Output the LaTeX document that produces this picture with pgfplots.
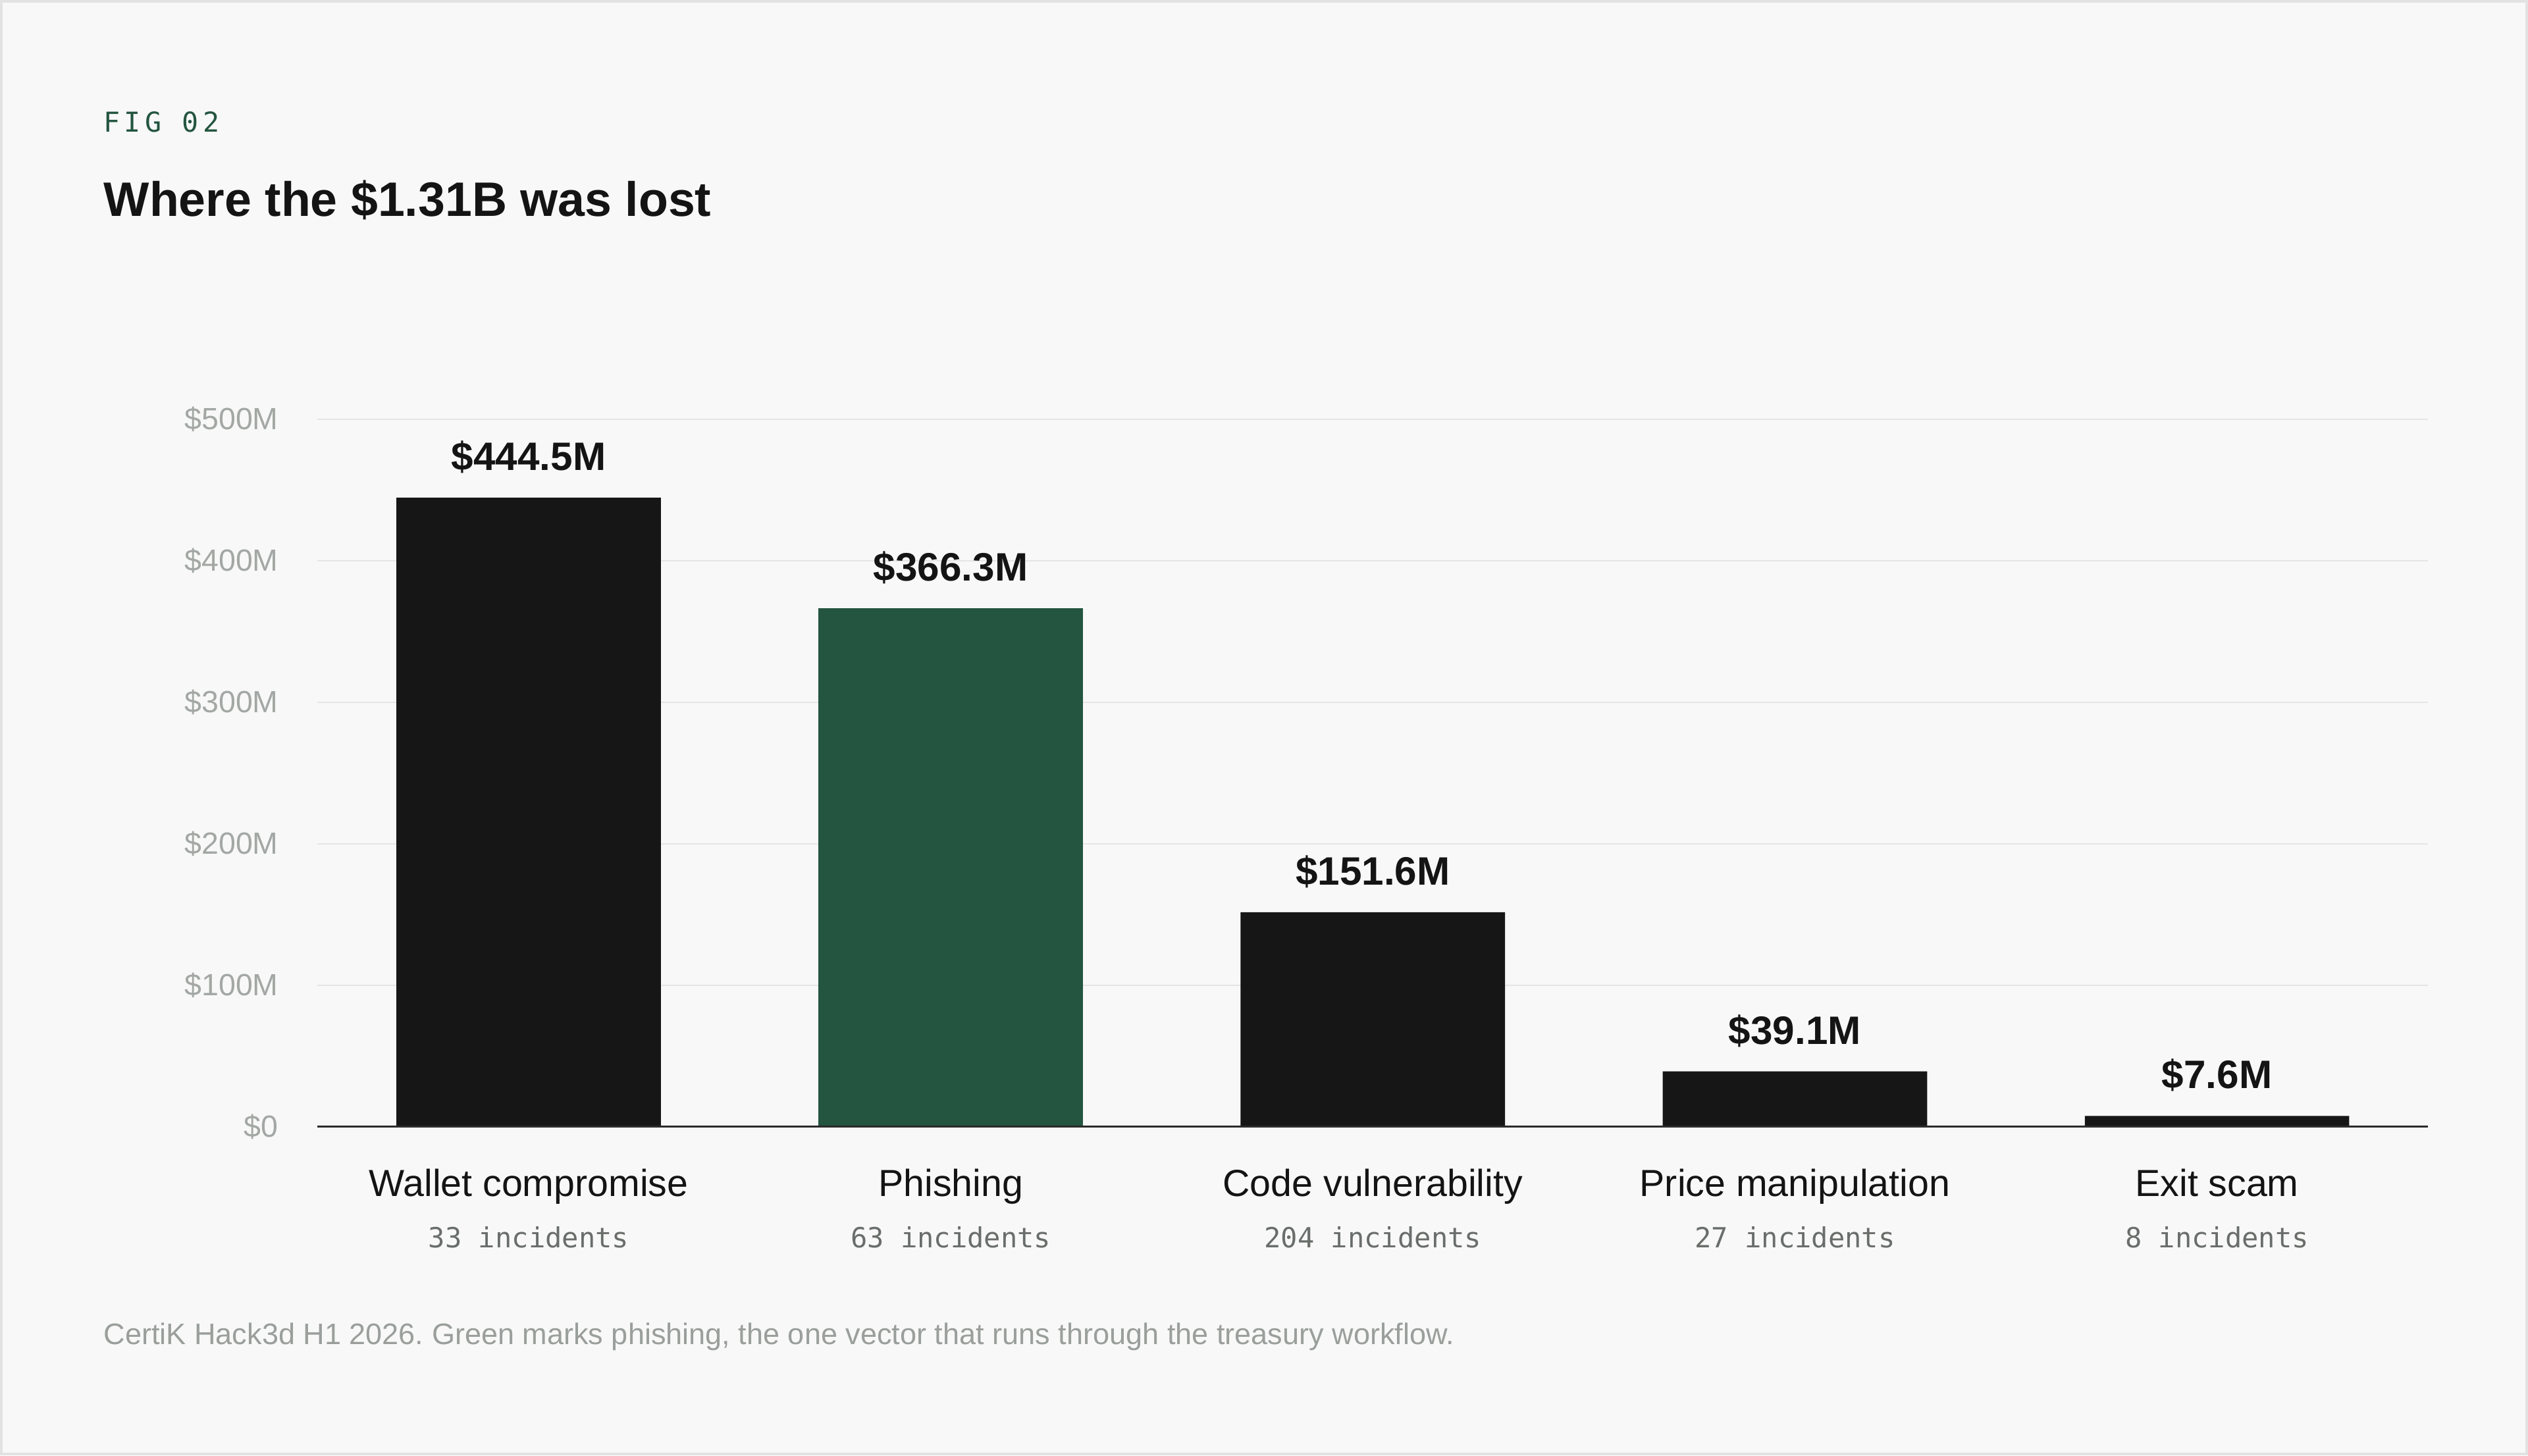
\documentclass[border=0pt]{standalone}
\usepackage{fontspec}
\setmainfont{Liberation Sans}
\newfontfamily\monofont{DejaVu Sans Mono}
\newfontfamily\figfont[LetterSpace=15]{DejaVu Sans Mono}
\usepackage{pgfplots}
\pgfplotsset{compat=1.18}
\definecolor{bg}{HTML}{F8F8F8}
\definecolor{bordc}{HTML}{E2E2E2}
\definecolor{figgreen}{HTML}{245540}
\definecolor{barblack}{HTML}{161616}
\definecolor{titleblack}{HTML}{141414}
\definecolor{ytickc}{HTML}{A3A8A4}
\definecolor{footc}{HTML}{9A9F9B}
\definecolor{incc}{HTML}{6A6E6B}
\definecolor{gridc}{HTML}{E5E5E5}
\definecolor{axisc}{HTML}{2B2B2B}
\begin{document}
\frenchspacing
\begin{tikzpicture}[x=1pt,y=1pt]
\fill[bg] (0,0) rectangle (784,451.5);
\draw[bordc, line width=0.8pt] (0.4,0.4) rectangle (783.6,451.1);
\node[anchor=base west, inner sep=0, text=figgreen, font=\figfont\fontsize{8.5}{10}\selectfont] at (32,410.5) {FIG 02};
\node[anchor=base west, inner sep=0, text=titleblack, font=\bfseries\fontsize{15}{18}\selectfont] at (32,384.5) {Where the \$1.31B was lost};
\node[anchor=base west, inner sep=0, text=footc, font=\fontsize{9.2}{11}\selectfont] at (32,34.5) {CertiK Hack3d H1 2026. Green marks phishing, the one vector that runs through the treasury workflow.};
\begin{axis}[
  at={(98.5pt,102pt)}, anchor=south west,
  scale only axis, width=654.5pt, height=219.5pt,
  xmin=-0.5, xmax=4.5, ymin=0, ymax=500,
  axis line style={draw=none},
  major tick length=0pt,
  ytick={0,100,200,300,400,500},
  yticklabels={\$0,\$100M,\$200M,\$300M,\$400M,\$500M},
  xtick={0,1,2,3,4},
  xticklabels={Wallet compromise,Phishing,Code vulnerability,Price manipulation,Exit scam},
  ymajorgrids,
  grid style={gridc, line width=0.45pt},
  yticklabel style={font=\fontsize{9.5}{11}\selectfont, text=ytickc, anchor=east, inner sep=0pt, xshift=-12pt},
  xticklabel style={font=\fontsize{11.7}{14}\selectfont, text=titleblack, anchor=base, inner sep=0pt, yshift=-21.5pt},
  ybar, bar width=82pt, bar shift=0pt,
  nodes near coords={\$\pgfplotspointmeta M},
  nodes near coords style={font=\bfseries\fontsize{12.3}{14}\selectfont, text=titleblack, anchor=base, inner sep=0pt, yshift=8.5pt},
  point meta=explicit symbolic,
  clip=false,
]
\addplot[ybar, bar shift=0pt, bar width=82pt, fill=barblack, draw=none] table[x=x, y=y, meta=lab] {
x y lab
0 444.5 444.5
2 151.6 151.6
3 39.1 39.1
4 7.6 7.6
};
\addplot[ybar, bar shift=0pt, bar width=82pt, fill=figgreen, draw=none] table[x=x, y=y, meta=lab] {
x y lab
1 366.3 366.3
};
\draw[axisc, line width=0.6pt] (axis cs:-0.5,0) -- (axis cs:4.5,0);
\node[anchor=base, inner sep=0, text=incc, font=\monofont\fontsize{8.6}{10}\selectfont] at (axis cs:0,0) [yshift=-37.5pt] {33 incidents};
\node[anchor=base, inner sep=0, text=incc, font=\monofont\fontsize{8.6}{10}\selectfont] at (axis cs:1,0) [yshift=-37.5pt] {63 incidents};
\node[anchor=base, inner sep=0, text=incc, font=\monofont\fontsize{8.6}{10}\selectfont] at (axis cs:2,0) [yshift=-37.5pt] {204 incidents};
\node[anchor=base, inner sep=0, text=incc, font=\monofont\fontsize{8.6}{10}\selectfont] at (axis cs:3,0) [yshift=-37.5pt] {27 incidents};
\node[anchor=base, inner sep=0, text=incc, font=\monofont\fontsize{8.6}{10}\selectfont] at (axis cs:4,0) [yshift=-37.5pt] {8 incidents};
\end{axis}
\end{tikzpicture}
\end{document}
